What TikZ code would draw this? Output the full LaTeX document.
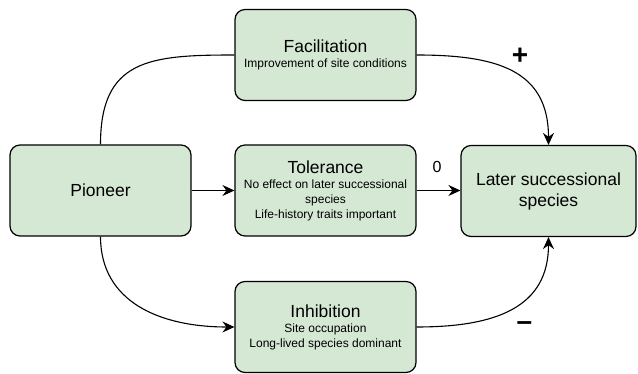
\documentclass[tikz,border=0pt]{standalone}
\usepackage{fontspec}
\setmainfont{Liberation Sans}
\usetikzlibrary{arrows.meta}
\definecolor{boxfill}{HTML}{D5E8D4}
\newcommand{\ttl}{\fontsize{17.5}{21}\selectfont}
\newcommand{\sub}{\fontsize{12}{15}\selectfont}
\begin{document}
\begin{tikzpicture}[x=1pt,y=-1pt,
  box/.style={draw=black, fill=boxfill, line width=1.2pt, rounded corners=10pt,
    minimum width=181pt, minimum height=91pt, align=center, inner sep=2pt,
    font=\sub},
  link/.style={line width=1.1pt, -{Stealth[length=12pt,width=11pt,inset=4pt]}},
  sign/.style={font=\fontsize{28}{28}\selectfont\bfseries, inner sep=0pt},
]
\useasboundingbox (0,0) rectangle (638,374);

% boxes
\node[box] (fac) at (325.5,55) {{\ttl Facilitation}\\Improvement of site conditions};
\node[box] (pio) at (100.5,190.5) {\ttl Pioneer};
\node[box] (tol) at (325.5,190.5) {{\ttl Tolerance}\\No effect on later successional\\species\\Life-history traits important};
\node[box, minimum width=175pt, font=\ttl] (lat) at (548.5,191) {Later successional\\species};
\node[box] (inh) at (325.5,327) {{\ttl Inhibition}\\Site occupation\\Long-lived species dominant};

% connectors
\draw[line width=1.1pt] (pio.north) .. controls +(0,-85) and +(-85,0) .. (fac.west);
\draw[link] (fac.east) .. controls +(80,0) and +(0,-75) .. (lat.north);
\draw[link] (pio.east) -- (tol.west);
\draw[link] (tol.east) -- (tol.east -| lat.west);
\draw[link] (pio.south) .. controls +(0,65) and +(-75,0) .. (inh.west);
\draw[link] (inh.east) .. controls +(80,0) and +(0,70) .. (lat.south);

% effect signs
\node[sign] (plus) at (520,56) {+};
\node[font=\fontsize{16}{16}\selectfont, inner sep=0pt] (zero) at (437,167) {0};
\node[sign] (minus) at (524.5,326.5) {–};
\end{tikzpicture}
\end{document}
